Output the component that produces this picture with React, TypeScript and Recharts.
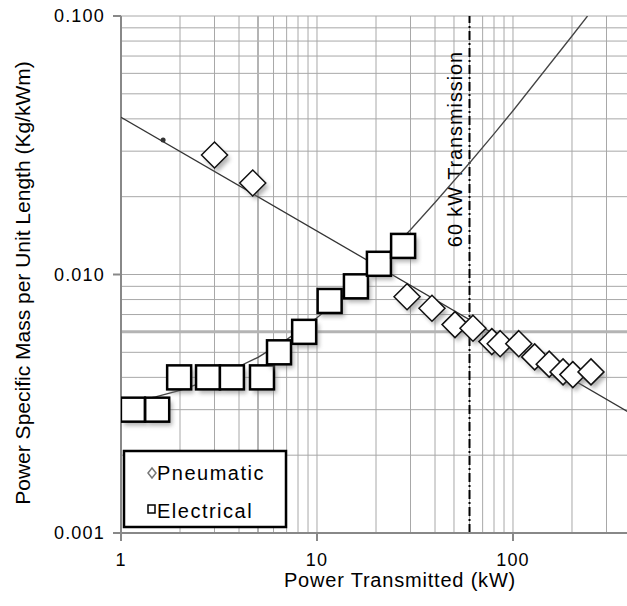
import { ScatterChart, Scatter, XAxis, YAxis, ReferenceLine } from "recharts";

const pneumaticX = [3.0, 4.7, 28.8, 38.6, 50.6, 62.5, 78, 86, 107, 129, 153, 180, 202, 250];
const pneumaticY = [0.029, 0.0226, 0.0082, 0.0074, 0.0064, 0.0062, 0.0055, 0.0054, 0.0054, 0.0048, 0.0045, 0.0042, 0.0041, 0.0042];
const electricalX = [1.15, 1.53, 1.98, 2.78, 3.68, 5.24, 6.4, 8.6, 11.6, 15.8, 20.7, 27.5];
const electricalY = [0.003, 0.003, 0.004, 0.004, 0.004, 0.004, 0.005, 0.006, 0.0079, 0.009, 0.011, 0.0129];

// trend lines
const pneumaticFitX = [1, 400];
const pneumaticFitY = [0.0406, 0.0029];
const pneumaticDotX = [1.64];
const pneumaticDotY = [0.0331];
const electricalFitX = [1, 1.5, 2, 3, 5, 7, 10, 15, 20, 30, 40, 60, 80, 100, 150, 200, 240];
const electricalFitY = [0.00316, 0.00336, 0.00356, 0.00397, 0.00478, 0.0056, 0.0068, 0.0088, 0.0108, 0.0149, 0.019, 0.027, 0.035, 0.043, 0.0635, 0.0837, 0.1];

const xTicks = [1, 10, 100];
const yTicks = [0.001, 0.01, 0.1];
const xGrid = [2, 3, 4, 5, 6, 7, 8, 9, 10, 20, 30, 40, 50, 60, 70, 80, 90, 100, 200, 300, 400];
const yGrid = [0.002, 0.003, 0.004, 0.005, 0.006, 0.007, 0.008, 0.009, 0.01, 0.02, 0.03, 0.04, 0.05, 0.06, 0.07, 0.08, 0.09, 0.1];
const xThick = [5];
const yThick = [0.006];
const transmissionKW = 60;

const zip = (xs: number[], ys: number[]) => xs.map((x, i) => ({ x, y: ys[i] }));

const FONT = "'Liberation Sans', Arial, sans-serif";
const GRID = "#a8a8a8";

function Diamond(props: any) {
  const { cx, cy } = props;
  const r = 13;
  const pts = (dx: number, dy: number) =>
    `${cx + dx},${cy + dy - r} ${cx + dx + r},${cy + dy} ${cx + dx},${cy + dy + r} ${cx + dx - r},${cy + dy}`;
  return (
    <g>
      <polygon points={pts(3, 4)} fill="#777" opacity={0.55} filter="url(#markShadow)" />
      <polygon points={pts(0, 0)} fill="#fff" stroke="#111" strokeWidth={1.5} />
    </g>
  );
}

function Square(props: any) {
  const { cx, cy } = props;
  const s = 12;
  return (
    <g>
      <rect x={cx - s + 3} y={cy - s + 4} width={2 * s} height={2 * s} fill="#777" opacity={0.55} filter="url(#markShadow)" />
      <rect x={cx - s} y={cy - s} width={2 * s} height={2 * s} fill="#fff" stroke="#000" strokeWidth={2.5} />
    </g>
  );
}

const Dot = (props: any) => <circle cx={props.cx} cy={props.cy} r={2.5} fill="#333" />;
const NoMark = () => <g />;

function TransmissionLabel(props: any) {
  const x = props.viewBox.x - 8;
  const y = 149;
  return (
    <text
      x={x}
      y={y}
      transform={`rotate(-90 ${x} ${y})`}
      textAnchor="middle"
      fontFamily={FONT}
      fontSize={20}
      letterSpacing={0.9}
      fill="#000"
    >
      60 kW Transmission
    </text>
  );
}

export default function App() {
  return (
    <div style={{ position: "absolute", left: 0, top: 0, width: 627, height: 606, overflow: "hidden", background: "#fff" }}>
      <svg width={0} height={0} style={{ position: "absolute" }}>
        <defs>
          <filter id="markShadow" x="-50%" y="-50%" width="200%" height="200%">
            <feGaussianBlur stdDeviation={2} />
          </filter>
        </defs>
      </svg>
      <ScatterChart width={631} height={606} margin={{ top: 16, right: 0, bottom: 0, left: 0 }}>
        {xGrid.map((v) => (
          <ReferenceLine key={`gx${v}`} x={v} stroke={GRID} strokeWidth={1} />
        ))}
        {yGrid.map((v) => (
          <ReferenceLine key={`gy${v}`} y={v} stroke={GRID} strokeWidth={1} />
        ))}
        {xThick.map((v) => (
          <ReferenceLine key={`tx${v}`} x={v} stroke="#b4b4b4" strokeWidth={2} />
        ))}
        {yThick.map((v) => (
          <ReferenceLine key={`ty${v}`} y={v} stroke="#b4b4b4" strokeWidth={3} />
        ))}
        <XAxis
          type="number"
          dataKey="x"
          scale="log"
          domain={[1, 400]}
          allowDataOverflow
          ticks={xTicks}
          height={73}
          stroke="#888"
          strokeWidth={2}
          tickSize={8}
          tickMargin={12}
          tick={{ fill: "#000", fontSize: 18, fontFamily: FONT, letterSpacing: 1.2 }}
          label={{
            content: () => (
              <text x={400} y={587} textAnchor="middle" fontFamily={FONT} fontSize={20} letterSpacing={0.8} fill="#000">
                Power Transmitted (kW)
              </text>
            ),
          }}
        />
        <YAxis
          type="number"
          dataKey="y"
          scale="log"
          domain={[0.001, 0.1]}
          allowDataOverflow
          ticks={yTicks}
          width={121}
          stroke="#888"
          strokeWidth={2}
          tickSize={8}
          tickMargin={8}
          tickFormatter={(v: number) => v.toFixed(3)}
          tick={{ fill: "#000", fontSize: 18, fontFamily: FONT, letterSpacing: 1.2 }}
          label={{
            content: () => (
              <text x={30} y={283} transform="rotate(-90 30 283)" textAnchor="middle" fontFamily={FONT} fontSize={21} fill="#000">
                Power Specific Mass per Unit Length (Kg/kWm)
              </text>
            ),
          }}
        />
        <ReferenceLine
          x={transmissionKW}
          stroke="#000"
          strokeWidth={2}
          strokeDasharray="9 3 2 3"
          label={{ content: (p: any) => <TransmissionLabel {...p} /> }}
        />
        <Scatter
          data={zip(pneumaticFitX, pneumaticFitY)}
          line={{ stroke: "#333", strokeWidth: 1.3 }}
          shape={NoMark}
          isAnimationActive={false}
        />
        <Scatter
          data={zip(electricalFitX, electricalFitY)}
          line={{ stroke: "#444", strokeWidth: 1.3 }}
          shape={NoMark}
          isAnimationActive={false}
        />
        <Scatter data={zip(pneumaticDotX, pneumaticDotY)} shape={Dot} isAnimationActive={false} />
        <Scatter name="Pneumatic" data={zip(pneumaticX, pneumaticY)} shape={Diamond} isAnimationActive={false} />
        <Scatter name="Electrical" data={zip(electricalX, electricalY)} shape={Square} isAnimationActive={false} />
      </ScatterChart>
      <svg width={627} height={606} style={{ position: "absolute", left: 0, top: 0, pointerEvents: "none" }}>
        <rect x={124} y={451} width={162} height={76} fill="#fff" stroke="#000" strokeWidth={2.5} />
        <polygon points="152,468 156,473 152,478 148,473" fill="#fff" stroke="#777" strokeWidth={1.5} />
        <text x={157} y={480} fontFamily={FONT} fontSize={20} letterSpacing={1.5} fill="#000">
          Pneumatic
        </text>
        <rect x={148} y={505} width={7} height={8} fill="#fff" stroke="#000" strokeWidth={1.5} />
        <text x={157} y={518} fontFamily={FONT} fontSize={20} letterSpacing={1.5} fill="#000">
          Electrical
        </text>
      </svg>
    </div>
  );
}
